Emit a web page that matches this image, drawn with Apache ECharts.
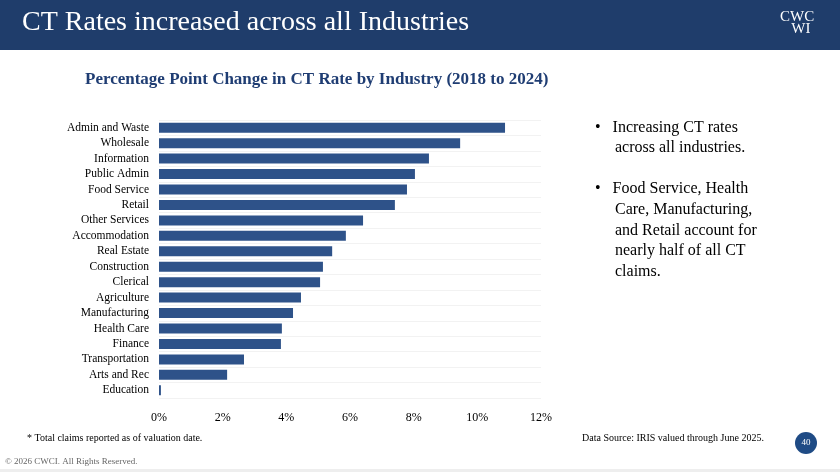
<!DOCTYPE html>
<html>
<head>
<meta charset="utf-8">
<title>CT Rates</title>
<script src="https://cdn.jsdelivr.net/npm/echarts@6/dist/echarts.min.js"></script>
<style>html,body{margin:0;padding:0;background:#fff}#chart{width:840px;height:472px}</style>
</head>
<body>
<div id="chart"></div>
<script>
var industries = ['Admin and Waste', 'Wholesale', 'Information', 'Public Admin', 'Food Service', 'Retail',
    'Other Services', 'Accommodation', 'Real Estate', 'Construction', 'Clerical', 'Agriculture',
    'Manufacturing', 'Health Care', 'Finance', 'Transportation', 'Arts and Rec', 'Education'];
var changePct = [10.87, 9.46, 8.48, 8.04, 7.79, 7.41, 6.41, 5.87, 5.44, 5.15, 5.06, 4.46,
    4.21, 3.86, 3.83, 2.67, 2.14, 0.06];

var serif = '"Liberation Serif", "DejaVu Serif", serif';
var chart = echarts.init(document.getElementById('chart'));
chart.setOption({
    animation: false,
    title: {
        text: 'Percentage Point Change in CT Rate by Industry (2018 to 2024)',
        left: 80, top: 66,
        textStyle: {fontFamily: serif, fontSize: 17, fontWeight: 'bold', color: '#1f3d73'}
    },
    grid: {left: 159, right: 299, top: 120, bottom: 74},
    xAxis: {
        type: 'value', min: 0, max: 12, interval: 2,
        axisLabel: {formatter: '{value}%', fontFamily: serif, fontSize: 12, color: '#000', margin: 14},
        splitLine: {show: false}, axisLine: {show: false}, axisTick: {show: false}
    },
    yAxis: {
        type: 'category', inverse: true, data: industries,
        axisLabel: {interval: 0, fontFamily: serif, fontSize: 11.5, color: '#000', margin: 10},
        axisLine: {show: false}, axisTick: {show: false},
        splitLine: {show: true, interval: 0, lineStyle: {color: '#f2f2f2'}}
    },
    series: [{
        type: 'bar', data: changePct, barWidth: 10,
        itemStyle: {color: '#2e5289'}
    }],
    graphic: [
        {type: 'rect', left: 0, top: 0, shape: {width: 840, height: 50}, style: {fill: '#1f3d6b'}},
        {type: 'text', left: 22, top: 9, style: {text: 'CT Rates increased across all Industries', fill: '#fff', font: '28px ' + serif}},
        {type: 'text', left: 780, top: 10, style: {text: 'CWC\n   WI', fill: '#fff', font: '15px ' + serif, lineHeight: 12}},
        {type: 'text', left: 595, top: 117, style: {
            text: '•   Increasing CT rates\n     across all industries.\n\n•   Food Service, Health\n     Care, Manufacturing,\n     and Retail account for\n     nearly half of all CT\n     claims.',
            fill: '#000', font: '16px ' + serif, lineHeight: 20.6}},
        {type: 'text', left: 27, top: 433, style: {text: '* Total claims reported as of valuation date.', fill: '#000', font: '10px ' + serif}},
        {type: 'text', left: 582, top: 433, style: {text: 'Data Source: IRIS valued through June 2025.', fill: '#000', font: '10px ' + serif}},
        {type: 'circle', shape: {cx: 806, cy: 443, r: 11}, style: {fill: '#1f4b85'}},
        {type: 'text', x: 806, y: 443, style: {text: '40', fill: '#fff', font: '9px ' + serif, align: 'center', verticalAlign: 'middle'}},
        {type: 'text', left: 5, top: 457, style: {text: '© 2026 CWCI. All Rights Reserved.', fill: '#666', font: '9px ' + serif}},
        {type: 'rect', left: 0, top: 469, shape: {width: 840, height: 3}, style: {fill: '#eeeeee'}}
    ]
});
</script>
</body>
</html>
